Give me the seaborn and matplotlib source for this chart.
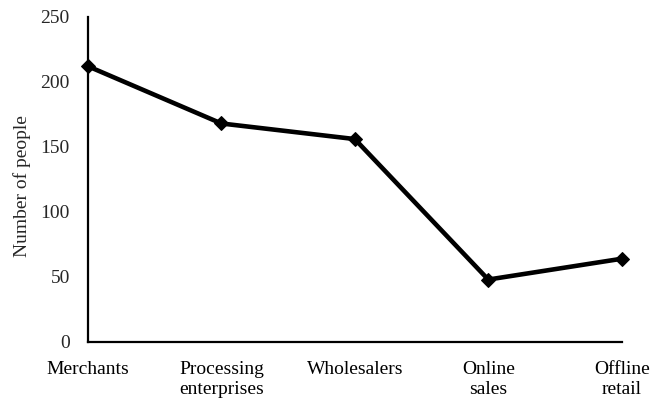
import matplotlib
matplotlib.use("Agg")
import matplotlib.pyplot as plt
import numpy as np
import pandas as pd
import seaborn as sns

# Data
categories = ["Merchants", "Processing\nenterprises", "Wholesalers", "Online\nsales", "Offline\nretail"]
people = [212, 168, 156, 48, 64]
y_labels = [0, 50, 100, 150, 200, 250]
y_marks = [0, 62.5, 125, 187.5, 250]

df = pd.DataFrame({"pos": range(len(categories)), "people": people})

sns.set_style("white")
plt.rcParams["font.family"] = ["Liberation Serif", "DejaVu Serif"]

fig = plt.figure(figsize=(6.51, 4.0), dpi=100)
ax = fig.add_axes([0.135, 0.145, 0.82, 0.813])

sns.lineplot(data=df, x="pos", y="people", ax=ax, color="black", linewidth=3.3,
             marker="D", markersize=7.5, markeredgecolor="black", clip_on=False, zorder=5)

ax.set_xlim(0, len(categories) - 1)
ax.set_ylim(0, 250)

# x ticks: inward, at each category
ax.set_xticks(range(len(categories)))
ax.set_xticklabels(categories, fontsize=14, linespacing=1.2)
ax.tick_params(axis="x", direction="in", length=6, width=1.5, pad=14, colors="black")

# y: labels every 50, tick marks every 62.5
ax.set_yticks(y_labels)
ax.set_yticklabels([str(v) for v in y_labels], fontsize=14)
ax.tick_params(axis="y", which="major", length=0, pad=13)
ax.set_yticks(y_marks, minor=True)
ax.tick_params(axis="y", which="minor", direction="in", length=6, width=1.8, colors="black")

ax.set_xlabel("")
ax.set_ylabel("Number of people", fontsize=14, va="center")
ax.yaxis.set_label_coords(-0.124, 0.48)

for s in ["top", "right"]:
    ax.spines[s].set_visible(False)
for s in ["left", "bottom"]:
    ax.spines[s].set_color("black")
    ax.spines[s].set_linewidth(1.6)

fig.savefig("out.png", dpi=100)
